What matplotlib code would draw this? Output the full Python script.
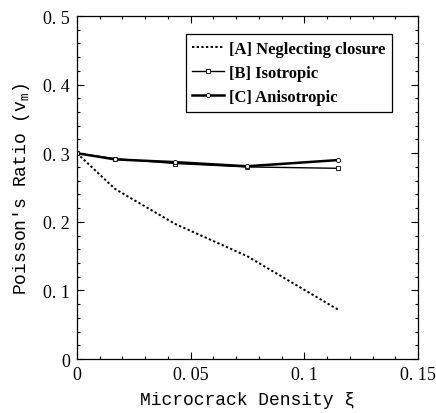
import matplotlib
matplotlib.use("Agg")
import matplotlib.pyplot as plt
from matplotlib.ticker import MultipleLocator, FuncFormatter

xi = [0.0, 0.0167, 0.0431, 0.0748, 0.1148]
nu_A = [0.300, 0.248, 0.197, 0.150, 0.072]
nu_B = [0.300, 0.292, 0.285, 0.280, 0.278]
nu_C = [0.300, 0.291, 0.287, 0.281, 0.290]

fig = plt.figure(figsize=(4.36, 4.14), dpi=100)
ax = fig.add_axes([0.1766, 0.1304, 0.7821, 0.8285])

ax.plot(xi, nu_A, color='black', linestyle=(0, (1.2, 1.2)), linewidth=1.4,
        label='[A] Neglecting closure')
ax.plot(xi, nu_B, color='black', linewidth=1.0, marker='s', markersize=3.5,
        markerfacecolor='white', markeredgewidth=0.6, label='[B] Isotropic')
ax.plot(xi, nu_C, color='black', linewidth=1.8, marker='o', markersize=3,
        markerfacecolor='white', markeredgewidth=0.6, label='[C] Anisotropic')

ax.set_xlim(0, 0.15)
ax.set_ylim(0, 0.5)
ax.xaxis.set_major_locator(MultipleLocator(0.05))
ax.xaxis.set_minor_locator(MultipleLocator(0.01))
ax.yaxis.set_major_locator(MultipleLocator(0.1))
ax.yaxis.set_minor_locator(MultipleLocator(0.02))

def fmt(v, pos):
    if abs(v) < 1e-9:
        return '0'
    s = ('%.2f' % v).rstrip('0')
    return s.replace('.', '. ')

ax.xaxis.set_major_formatter(FuncFormatter(fmt))
ax.yaxis.set_major_formatter(FuncFormatter(fmt))

ax.tick_params(which='both', direction='in', top=True, right=True, width=0.8)
ax.tick_params(which='major', length=5, labelsize=13, pad=5)
ax.tick_params(which='minor', length=2.5)
for lab in ax.get_xticklabels() + ax.get_yticklabels():
    lab.set_family('Liberation Serif')

for sp in ax.spines.values():
    sp.set_linewidth(0.9)

ax.set_xlabel('Microcrack Density ξ', family='Liberation Mono', fontsize=13, labelpad=6)
ax.set_ylabel(r"Poisson's Ratio ($\mathregular{v_m}$)", family='Liberation Mono', fontsize=13, labelpad=8)

leg = ax.legend(loc='upper right', bbox_to_anchor=(0.924, 0.948), borderaxespad=0,
                frameon=True, fancybox=False, edgecolor='black', framealpha=1,
                prop={'family': 'Liberation Serif', 'weight': 'bold', 'size': 12},
                handlelength=1.9, handletextpad=0.3, borderpad=0.4, labelspacing=0.5)
leg.get_frame().set_linewidth(0.9)

fig.savefig('out.png', dpi=100)
